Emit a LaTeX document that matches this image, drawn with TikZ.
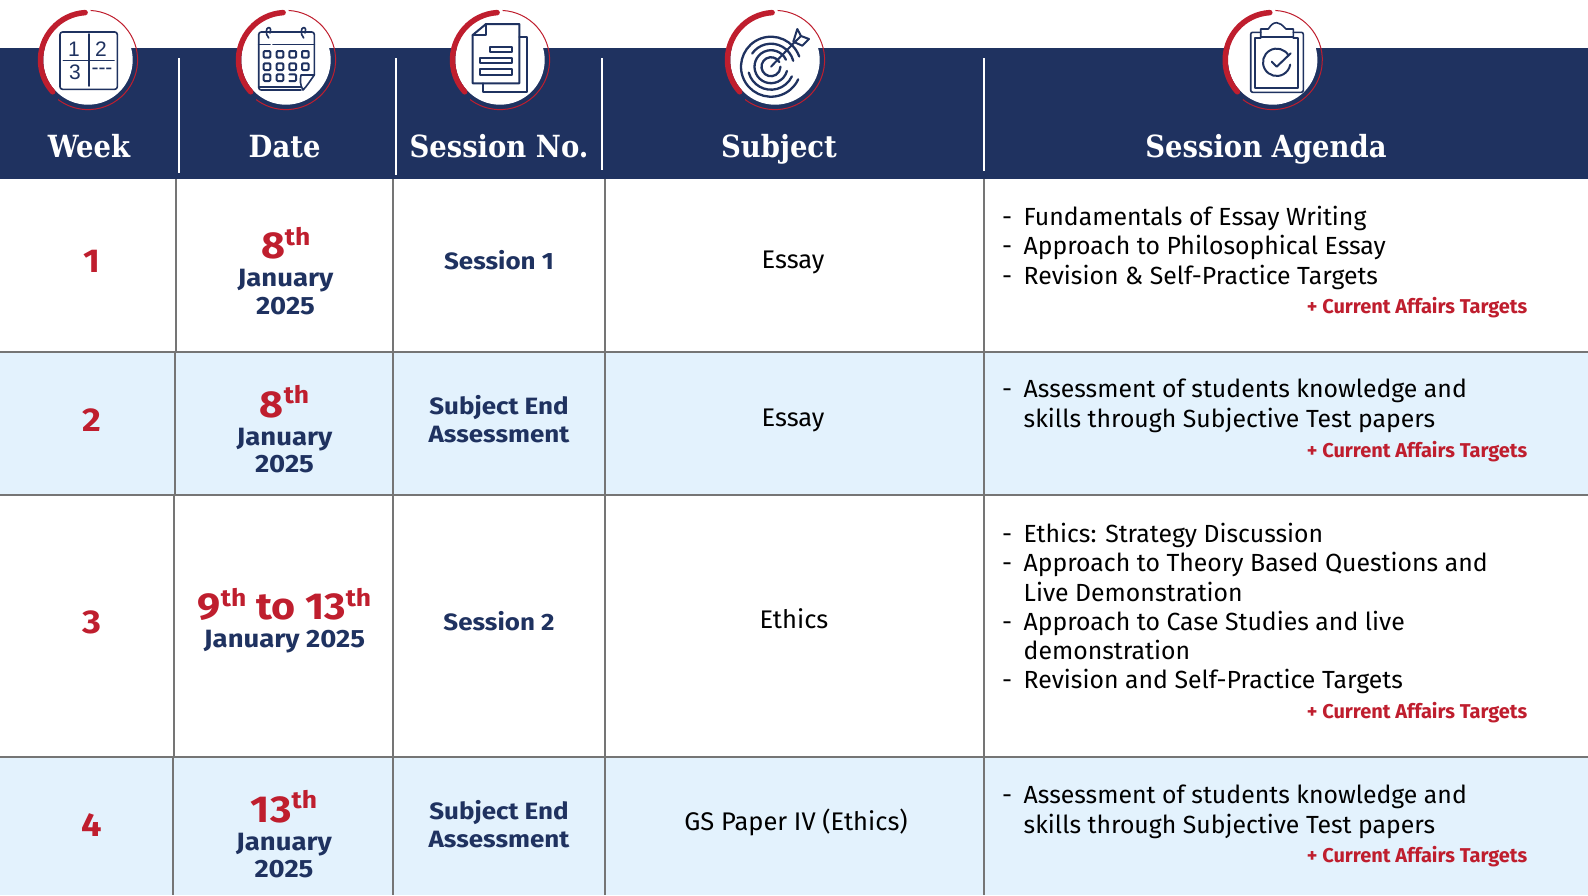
\documentclass[tikz,border=0pt]{standalone}
\usepackage{fontspec}
\setmainfont{Fira Sans}
\newfontfamily\headfont{DejaVu Serif Condensed}
\newfontfamily\iconfont{Liberation Sans}
\newfontfamily\widefont[FakeStretch=1.1]{Fira Sans}
\definecolor{navy}{HTML}{1F3260}
\definecolor{crimson}{HTML}{BF1E2E}
\definecolor{pale}{HTML}{E3F2FD}
\definecolor{rule}{HTML}{757575}
\newcommand{\fs}[1]{\fontsize{#1}{#1}\selectfont}
\newcommand{\ordinal}[2]{{\widefont\fs{37.5}\bfseries #1\raisebox{13.5pt}{\fs{24}\bfseries #2}}}
\newcommand{\ringarcs}[1]{%
  \fill[white] (#1,60) circle[radius=44.7];
  \draw[crimson,line width=5.5pt,line cap=round] (#1,60) ++(-93.5:47.5) arc[start angle=-93.5,end angle=-222,radius=47.5];
  \draw[crimson,line width=1pt] (#1,60) ++(-87:49.6) arc[start angle=-87,end angle=127,radius=49.6];
}
\tikzset{
  x=1pt,y=-1pt,
  head/.style={anchor=base,inner sep=0,text=white,font=\headfont\fs{30.5}\bfseries},
  sep/.style={white,line width=2pt},
  grid/.style={rule,line width=2pt},
  week/.style={anchor=base,inner sep=0,text=crimson,font=\widefont\fs{33}\bfseries},
  dateline/.style={anchor=base,inner sep=0,text=crimson},
  navydate/.style={anchor=base,inner sep=0,text=navy,font=\widefont\fs{25}\bfseries},
  navytext/.style={anchor=base,inner sep=0,text=navy,font=\widefont\fs{23.6}\bfseries},
  subj/.style={anchor=base,inner sep=0,text=black,font=\fs{25.5}},
  bullet/.style={anchor=base west,inner sep=0,text=black,font=\fs{24.8}},
  extra/.style={anchor=base east,inner sep=0,text=crimson,font=\fs{20}\bfseries},
  icon/.style={navy,line width=1.6pt,line join=round,line cap=round},
  iconbold/.style={icon,line width=2pt},
  digit/.style={inner sep=0,text=navy,font=\iconfont\fs{21}},
}
\begin{document}
\begin{tikzpicture}
\useasboundingbox (0,0) rectangle (1588,895);
\fill[white] (0,0) rectangle (1588,895);
\fill[navy] (0,48) rectangle (1588,179);
\fill[pale] (0,352) rectangle (1588,495);
\fill[pale] (0,757) rectangle (1588,895);
% grid
\draw[grid] (0,352) -- (1588,352);
\draw[grid] (0,495) -- (1588,495);
\draw[grid] (0,757) -- (1588,757);
\draw[grid] (176,179) -- (176,352);
\draw[grid] (175,352) -- (175,495);
\draw[grid] (174,495) -- (174,757);
\draw[grid] (173,757) -- (173,895);
\draw[grid] (393,179) -- (393,895);
\draw[grid] (605,179) -- (605,895);
\draw[grid] (983.5,179) -- (983.5,895);
% header separators
\draw[sep] (179,58) -- (179,172.7);
\draw[sep] (396,58) -- (396,174.7);
\draw[sep] (602.3,58) -- (602.3,169.5);
\draw[sep] (983.5,58) -- (983.5,171);
% header text
\node[head] (hweek) at (89,157) {Week};
\node[head] (hdate) at (284.6,157) {Date};
\node[head] (hsess) at (499,157) {Session No.};
\node[head] (hsubj) at (779,157) {Subject};
\node[head] (hagen) at (1266,157) {Session Agenda};
% icon discs
\ringarcs{88}
\ringarcs{286}
\ringarcs{500}
\ringarcs{775}
\ringarcs{1272.7}
% week icon
\draw[icon,rounded corners=2.5pt] (60,32) rectangle (117.3,89.3);
\draw[icon] (88.7,34) -- (88.7,86) (63.3,60.3) -- (114,60.3);
\node[digit] (i1) at (74,49) {1};
\node[digit] (i2) at (101,49) {2};
\node[digit] (i3) at (75,72.3) {3};
\node[digit] (i4) at (102,71) {---};
% calendar icon
\draw[icon,rounded corners=2.5pt] (301,90) -- (258.7,90) -- (258.7,32) -- (314.3,32) -- (314.3,75);
\draw[icon] (258.7,44.3) -- (270,44.3) (273,44.3) -- (314.3,44.3);
\draw[icon] (258.7,87) -- (301,87);
\draw[icon] (268.7,38) .. controls (265,34) and (266,27.5) .. (268.7,27.5) .. controls (271,27.5) and (271,31) .. (270,33);
\draw[icon] (303.7,38) .. controls (300,34) and (301,27.5) .. (303.7,27.5) .. controls (306,27.5) and (306,31) .. (305,33);
\foreach \cx in {267,280,292.7,305.3} \foreach \cy in {54.3,66.7} {
  \draw[iconbold,rounded corners=1pt] (\cx-3.3,\cy-3.3) rectangle (\cx+3.3,\cy+3.3);
}
\foreach \cx in {267,280} {
  \draw[iconbold,rounded corners=1pt] (\cx-3.3,74.4) rectangle (\cx+3.3,81);
}
\draw[iconbold,rounded corners=1pt] (289.4,74.4) -- (296,74.4) -- (296,81) -- (289.4,81);
\draw[icon] (301,75) -- (314.3,75) .. controls (310,81) and (307,86) .. (303,90) .. controls (300,85) and (300,80) .. (301,75);
% document icon
\draw[iconbold] (472.7,35) -- (486,24) -- (519.3,24) -- (519.3,83.3) -- (472.7,83.3) -- cycle;
\draw[iconbold] (486,24) -- (486,35) -- (472.7,35);
\draw[iconbold] (482.7,83.3) -- (482.7,91.7) -- (527.3,91.7) -- (527.3,36.7) -- (519.3,36.7);
\draw[iconbold] (490,46.7) rectangle (511.7,52.3);
\draw[iconbold] (480,58) rectangle (511.7,63.3);
\draw[iconbold] (480,69.3) rectangle (511.7,75);
% target icon
\draw[iconbold,line width=2.3pt] (771,66.7) ++(-20:30) arc[start angle=-20,delta angle=-315,radius=30];
\draw[iconbold,line width=2.3pt] (771,66.7) ++(-15:23) arc[start angle=-15,delta angle=-130,radius=23];
\draw[iconbold,line width=2.3pt] (771,66.7) ++(165:23) arc[start angle=165,delta angle=-140,radius=23];
\draw[iconbold,line width=2.3pt] (771,66.7) ++(-25:16.5) arc[start angle=-25,delta angle=-320,radius=16.5];
\draw[iconbold,line width=2.3pt] (771,66.7) ++(-30:9.5) arc[start angle=-30,delta angle=-330,radius=9.5];
\draw[iconbold] (771,66.7) -- (793.3,43.5);
\draw[iconbold] (793.3,41.7) -- (797.3,29) -- (801,36) -- (809,39) -- (802.3,45.7) -- cycle;
\draw[iconbold] (801,36) -- (793.3,43.5);
% clipboard icon
\draw[icon,rounded corners=2pt] (1260.7,32.3) -- (1250.7,32.3) -- (1250.7,92.3) -- (1303.3,92.3) -- (1303.3,32.3) -- (1293.3,32.3);
\draw[iconbold] (1260.7,37.7) -- (1255.3,37.7) -- (1255.3,87.7) -- (1298.3,87.7) -- (1298.3,37.7) -- (1293.3,37.7);
\draw[icon] (1260.7,37) -- (1260.7,29) -- (1268.3,29) .. controls (1271,25) and (1273,22.7) .. (1276.7,22.7) .. controls (1280,22.7) and (1282,25) .. (1286,29) -- (1293.3,29) -- (1293.3,37) -- cycle;
\draw[iconbold] (1276.7,62.3) ++(-30:13.7) arc[start angle=-30,delta angle=-320,radius=13.7];
\draw[iconbold] (1271.7,61.7) -- (1276.7,66.7) -- (1290.7,53.3);
% week column
\node[week] (w1) at (92,272.7) {1};
\node[week] (w2) at (92,431.7) {2};
\node[week] (w3) at (92,633.3) {3};
\node[week] (w4) at (92,836.7) {4};
% date column
\node[dateline] (d1a) at (285.7,258.8) {\ordinal{8}{th}};
\node[navydate] (d1b) at (285.5,286.7) {January};
\node[navydate] (d1c) at (285.5,314.3) {2025};
\node[dateline] (d2a) at (284.5,417.2) {\ordinal{8}{th}};
\node[navydate] (d2b) at (284.5,445) {January};
\node[navydate] (d2c) at (284.5,472.7) {2025};
\node[dateline] (d3a) at (284.5,619.8) {\ordinal{9}{th}{\widefont\fs{37.5}\bfseries\ to }\ordinal{13}{th}};
\node[navydate] (d3b) at (284.6,647.7) {January 2025};
\node[dateline] (d4a) at (284,822.2) {\ordinal{13}{th}};
\node[navydate] (d4b) at (284,850) {January};
\node[navydate] (d4c) at (284,877.7) {2025};
% session column
\node[navytext] (s1) at (499,269) {Session 1};
\node[navytext] (s2a) at (499,414.8) {Subject End};
\node[navytext] (s2b) at (499,442.2) {Assessment};
\node[navytext] (s3) at (499,630) {Session 2};
\node[navytext] (s4a) at (499,819.8) {Subject End};
\node[navytext] (s4b) at (499,847.2) {Assessment};
% subject column
\node[subj] (u1) at (793,268.3) {Essay};
\node[subj] (u2) at (793,426.2) {Essay};
\node[subj] (u3) at (794,628.8) {Ethics};
\node[subj] (u4) at (796,830.5) {GS Paper IV (Ethics)};
% agenda column
\node[bullet] (a11d) at (1002,225) {-};
\node[bullet] (a11) at (1023.5,225) {Fundamentals of Essay Writing};
\node[bullet] (a12d) at (1002,254) {-};
\node[bullet] (a12) at (1023.5,254) {Approach to Philosophical Essay};
\node[bullet] (a13d) at (1002,284) {-};
\node[bullet] (a13) at (1023.5,284) {Revision \& Self-Practice Targets};
\node[extra] (x1) at (1527.5,313.3) {+ Current Affairs Targets};
\node[bullet] (a21d) at (1002,397.3) {-};
\node[bullet] (a21) at (1023.5,397.3) {Assessment of students knowledge and};
\node[bullet] (a22) at (1023.5,427) {skills through Subjective Test papers};
\node[extra] (x2) at (1527.5,457.3) {+ Current Affairs Targets};
\node[bullet] (a31d) at (1002,542) {-};
\node[bullet] (a31) at (1023.5,542) {Ethics: Strategy Discussion};
\node[bullet] (a32d) at (1002,571.4) {-};
\node[bullet] (a32) at (1023.5,571.4) {Approach to Theory Based Questions and};
\node[bullet] (a33) at (1023.5,601.8) {Live Demonstration};
\node[bullet] (a34d) at (1002,630) {-};
\node[bullet] (a34) at (1023.5,630) {Approach to Case Studies and live};
\node[bullet] (a35) at (1023.5,659.5) {demonstration};
\node[bullet] (a36d) at (1002,688.8) {-};
\node[bullet] (a36) at (1023.5,688.8) {Revision and Self-Practice Targets};
\node[extra] (x3) at (1527.5,718.2) {+ Current Affairs Targets};
\node[bullet] (a41d) at (1002,803.2) {-};
\node[bullet] (a41) at (1023.5,803.2) {Assessment of students knowledge and};
\node[bullet] (a42) at (1023.5,833.6) {skills through Subjective Test papers};
\node[extra] (x4) at (1527.5,862) {+ Current Affairs Targets};
\end{tikzpicture}
\end{document}
